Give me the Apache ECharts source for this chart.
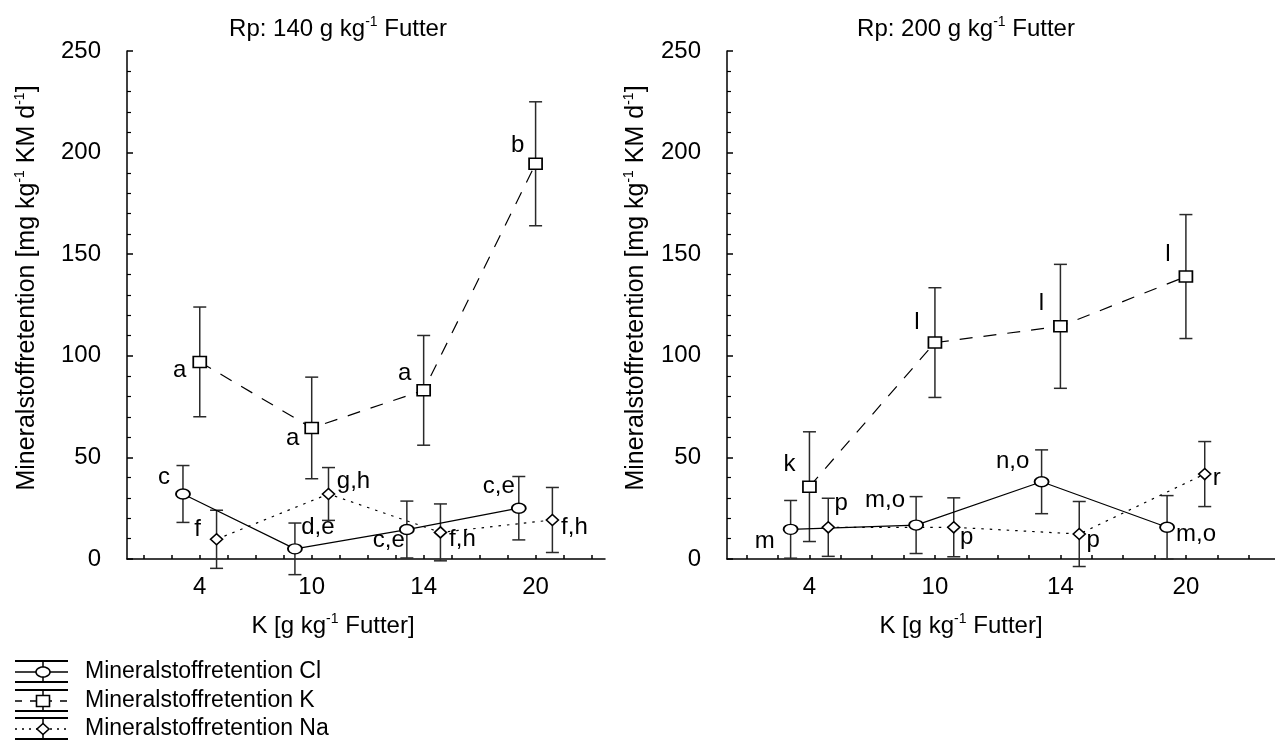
<!DOCTYPE html>
<html>
<head>
<meta charset="utf-8">
<script src="https://cdn.jsdelivr.net/npm/echarts@6/dist/echarts.min.js"></script>
<style>
  html, body { margin: 0; padding: 0; background: #fff; }
  #chart { width: 1275px; height: 744px; }
</style>
</head>
<body>
<div id="chart"></div>
<script>
// K levels in the feed (g/kg), one group of points per level
const potassiumLevels = ['4', '10', '14', '20'];

// Crude protein 140 g/kg feed: mean retention and error (mg/kg BW/d)
const cl140 = [32, 5, 14.5, 25];
const cl140Err = [14, 12.7, 14, 15.6];
const k140 = [97, 64.5, 83, 194.5];
const k140Err = [27, 25, 27, 30.5];
const na140 = [9.7, 32, 13.1, 19.2];
const na140Err = [14.3, 13, 14, 16];

// Crude protein 200 g/kg feed
const cl200 = [14.6, 16.7, 38, 15.6];
const cl200Err = [14.2, 14, 15.7, 15.6];
const k200 = [35.6, 106.5, 114.5, 139];
const k200Err = [27, 27, 30.5, 30.5];
const na200 = [15.6, 15.6, 12.3, 41.8];
const na200Err = [14.3, 14.5, 16, 16];

// Significance letters
const cl140Letters = ['c', 'd,e', 'c,e', 'c,e'];
const k140Letters = ['a', 'a', 'a', 'b'];
const na140Letters = ['f', 'g,h', 'f,h', 'f,h'];
const cl200Letters = ['m', 'm,o', 'n,o', 'm,o'];
const k200Letters = ['k', 'l', 'l', 'l'];
const na200Letters = ['p', 'p', 'p', 'r'];

const yTicks = [0, 50, 100, 150, 200, 250];

// ---- styling ----
const FONT = '"Liberation Sans", Arial, Helvetica, sans-serif';
const FS = 24;
const INK = '#000';
const BAR = '#2a2a2a';
const SHIFT = 0.15; // horizontal spread of Cl / Na around each K level

// label offsets [dx, dy] from each marker centre
const cl140Shift = [[-19, -17], [23, -21], [-18, 11], [-20, -22]];
const k140Shift = [[-20, 8], [-19, 10], [-19, -17], [-18, -18]];
const na140Shift = [[-19, -10], [25, -13], [22, 7], [22, 7]];
const cl200Shift = [[-26, 12], [-31, -25], [-29, -20], [29, 7]];
const k200Shift = [[-20, -22], [-18, -20], [-19, -23], [-18, -22]];
const na200Shift = [[13, -24], [13, 10], [14, 6], [12, 4]];

const ionStyle = {
  Cl: { symbol: 'circle', size: [14, 10], line: 'solid', offset: -SHIFT },
  K: { symbol: 'rect', size: [13, 11], line: [13, 11], offset: 0 },
  Na: { symbol: 'diamond', size: [12, 11], line: [2.5, 6], offset: SHIFT }
};

function lineSeries(ion, values, letters, shifts, idx) {
  const st = ionStyle[ion];
  return {
    type: 'line',
    name: 'Mineralstoffretention ' + ion,
    xAxisIndex: idx, yAxisIndex: idx,
    z: 3,
    silent: true,
    animation: false,
    symbol: st.symbol,
    symbolSize: st.size,
    itemStyle: { color: '#fff', borderColor: INK, borderWidth: 1.6 },
    lineStyle: { color: INK, width: 1.2, type: st.line },
    label: {
      show: true,
      position: 'inside',
      color: INK,
      fontFamily: FONT,
      fontSize: FS,
      formatter: p => letters[p.dataIndex]
    },
    data: values.map((v, i) => ({
      value: [i + 1 + st.offset, v],
      label: { offset: shifts[i] }
    }))
  };
}

function errorSeries(ion, values, errors, idx) {
  const st = ionStyle[ion];
  return {
    type: 'custom',
    xAxisIndex: idx, yAxisIndex: idx,
    z: 2,
    silent: true,
    animation: false,
    clip: false,
    encode: { x: 0, y: [1, 2] },
    data: values.map((v, i) => [i + 1 + st.offset, v - errors[i], v + errors[i]]),
    renderItem: (params, api) => {
      const x = api.value(0);
      const top = api.coord([x, api.value(2)]);
      const bot = api.coord([x, api.value(1)]);
      const w = 6.5;
      const style = { stroke: BAR, lineWidth: 1.5 };
      return {
        type: 'group',
        children: [
          { type: 'line', shape: { x1: top[0], y1: top[1], x2: bot[0], y2: bot[1] }, style },
          { type: 'line', shape: { x1: top[0] - w, y1: top[1], x2: top[0] + w, y2: top[1] }, style },
          { type: 'line', shape: { x1: bot[0] - w, y1: bot[1], x2: bot[0] + w, y2: bot[1] }, style }
        ]
      };
    }
  };
}

const quarterTicks = [];
for (let q = 2; q <= 18; q++) quarterTicks.push(q / 4);

function xAxisFor(idx, min, max) {
  return {
    type: 'value', gridIndex: idx, min, max,
    axisLine: { show: true, onZero: false, lineStyle: { color: INK, width: 1.5 } },
    axisTick: { show: true, inside: true, length: 4, customValues: quarterTicks, lineStyle: { color: INK, width: 1.5 } },
    axisLabel: {
      customValues: [1, 2, 3, 4],
      formatter: v => potassiumLevels[Math.round(v) - 1],
      color: INK, fontFamily: FONT, fontSize: FS, margin: 16
    },
    splitLine: { show: false }
  };
}

function yAxisFor(idx) {
  return {
    type: 'value', gridIndex: idx,
    min: yTicks[0], max: yTicks[yTicks.length - 1], interval: yTicks[1] - yTicks[0],
    axisLine: { show: true, onZero: false, lineStyle: { color: INK, width: 1.5 } },
    axisTick: { show: true, inside: true, length: 6, lineStyle: { color: INK, width: 1.5 } },
    minorTick: { show: true, splitNumber: 5, length: 4, lineStyle: { color: INK, width: 1.2 } },
    axisLabel: { color: INK, fontFamily: FONT, fontSize: FS, margin: 26 },
    splitLine: { show: false },
    minorSplitLine: { show: false }
  };
}

const supRich = {
  sup: { fontSize: 14, lineHeight: 12, verticalAlign: 'top', fontFamily: FONT, fill: INK }
};

function textEl(text, x, y, rotation, size) {
  return {
    type: 'text',
    x, y,
    rotation: rotation || 0,
    silent: true,
    style: {
      text,
      fill: INK,
      fontFamily: FONT,
      fontSize: size || FS,
      lineHeight: 28,
      align: 'center',
      verticalAlign: 'middle',
      textAlign: 'center',
      textVerticalAlign: 'middle',
      rich: supRich
    }
  };
}

const yName = 'Mineralstoffretention [mg kg{sup|-1} KM d{sup|-1}]';
const xName = 'K [g kg{sup|-1} Futter]';

// legend keys: wide error-bar caps, the series line and its marker
function legendKey(ion, cy) {
  const x0 = 15, x1 = 68, cx = 43;
  const st = ionStyle[ion];
  const s = { stroke: INK, lineWidth: 2 };
  const kids = [
    { type: 'line', shape: { x1: x0, y1: cy - 11, x2: x1, y2: cy - 11 }, style: s },
    { type: 'line', shape: { x1: x0, y1: cy + 10, x2: x1, y2: cy + 10 }, style: s },
    { type: 'line', shape: { x1: cx, y1: cy - 11, x2: cx, y2: cy + 10 }, style: { stroke: INK, lineWidth: 1.5 } },
    { type: 'line', shape: { x1: x0, y1: cy, x2: x1, y2: cy },
      style: { stroke: INK, lineWidth: 1.5, lineDash: st.line === 'solid' ? null : (ion === 'K' ? [7, 8] : [2, 5]) } }
  ];
  const w = st.size[0] / 2, h = st.size[1] / 2;
  const mk = { fill: '#fff', stroke: INK, lineWidth: 1.6 };
  let pts;
  if (st.symbol === 'circle') {
    pts = [];
    for (let k = 0; k < 36; k++) {
      const a = k / 36 * Math.PI * 2;
      pts.push([cx + w * Math.cos(a), cy + h * Math.sin(a)]);
    }
  } else if (st.symbol === 'rect') {
    pts = [[cx - w, cy - h], [cx + w, cy - h], [cx + w, cy + h], [cx - w, cy + h]];
  } else {
    pts = [[cx, cy - h], [cx + w, cy], [cx, cy + h], [cx - w, cy]];
  }
  kids.push({ type: 'polygon', shape: { points: pts }, style: mk });
  kids.push({
    type: 'text', x: 85, y: cy, silent: true,
    style: { text: 'Mineralstoffretention ' + ion, fill: INK, fontFamily: FONT, fontSize: 23,
      align: 'left', verticalAlign: 'middle', textAlign: 'left', textVerticalAlign: 'middle' }
  });
  return { type: 'group', silent: true, children: kids };
}

const chart = echarts.init(document.getElementById('chart'), null, { renderer: 'canvas' });

chart.setOption({
  animation: false,
  backgroundColor: '#fff',
  grid: [
    { left: 127, top: 51, width: 478, height: 508 },
    { left: 727, top: 51, width: 548, height: 508 }
  ],
  xAxis: [xAxisFor(0, 0.35, 4.62), xAxisFor(1, 0.343, 4.71)],
  yAxis: [yAxisFor(0), yAxisFor(1)],
  series: [
    errorSeries('Cl', cl140, cl140Err, 0),
    errorSeries('K', k140, k140Err, 0),
    errorSeries('Na', na140, na140Err, 0),
    lineSeries('Cl', cl140, cl140Letters, cl140Shift, 0),
    lineSeries('K', k140, k140Letters, k140Shift, 0),
    lineSeries('Na', na140, na140Letters, na140Shift, 0),
    errorSeries('Cl', cl200, cl200Err, 1),
    errorSeries('K', k200, k200Err, 1),
    errorSeries('Na', na200, na200Err, 1),
    lineSeries('Cl', cl200, cl200Letters, cl200Shift, 1),
    lineSeries('K', k200, k200Letters, k200Shift, 1),
    lineSeries('Na', na200, na200Letters, na200Shift, 1)
  ],
  graphic: [
    textEl('Rp: 140 g kg{sup|-1} Futter', 338, 29),
    textEl('Rp: 200 g kg{sup|-1} Futter', 966, 29),
    textEl(yName, 27, 288, Math.PI / 2, 25),
    textEl(yName, 636, 288, Math.PI / 2, 25),
    textEl(xName, 333, 626),
    textEl(xName, 961, 626),
    legendKey('Cl', 672),
    legendKey('K', 701),
    legendKey('Na', 729)
  ]
});
</script>
</body>
</html>
